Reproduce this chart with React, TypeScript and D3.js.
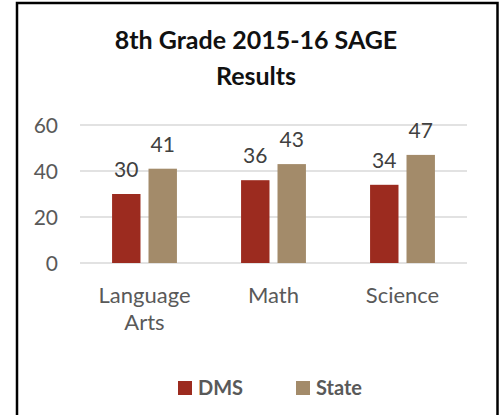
import * as d3 from 'd3';
import React from 'react';

const categories = ['Language Arts', 'Math', 'Science'];
const categoryLines = [['Language', 'Arts'], ['Math'], ['Science']];
const seriesNames = ['DMS', 'State'];
const dmsValues = [30, 36, 34];
const stateValues = [41, 43, 47];
const yTicks = [0, 20, 40, 60];

const colors = ['#9C2B1F', '#A38B6A'];
const font = 'Lato, "Open Sans", sans-serif';

const App = () => {
  const width = 502;
  const height = 415;

  const x = d3.scaleBand().domain(categories).range([80, 467]);
  const xInner = d3.scaleBand()
    .domain(seriesNames)
    .range([0, x.bandwidth()])
    .paddingInner(0.22)
    .paddingOuter(0.88);
  const y = d3.scaleLinear().domain([0, 60]).range([263, 125]);

  const series = [dmsValues, stateValues];

  return (
    <svg width={width} height={height} style={{ position: 'absolute', left: 0, top: 0 }} fontFamily={font}>
      <rect x={0} y={0} width={width} height={height} fill="#fff" />
      <rect x={17} y={3} width={480.5} height={500} fill="none" stroke="#000" strokeWidth={2.5} />

      <text x={256} y={49} textAnchor="middle" fontSize={25} fontWeight="bold" fill="#111">
        8th Grade 2015-16 SAGE
      </text>
      <text x={256} y={85} textAnchor="middle" fontSize={25} fontWeight="bold" fill="#111">
        Results
      </text>

      {/* gridlines + y labels */}
      {yTicks.map((t) => (
        <g key={t}>
          <line x1={80} x2={467} y1={y(t)} y2={y(t)} stroke="#D9D9D9" strokeWidth={1.5} />
          <text x={58} y={y(t)} dy="0.36em" textAnchor="end" fontSize={21} fill="#595959">
            {t}
          </text>
        </g>
      ))}

      {/* bars */}
      {series.map((vals, si) =>
        vals.map((v, ci) => {
          const bx = (x(categories[ci]) as number) + (xInner(seriesNames[si]) as number);
          return (
            <g key={`${si}-${ci}`}>
              <rect x={bx} y={y(v)} width={xInner.bandwidth()} height={y(0) - y(v)} fill={colors[si]} />
              <text x={bx + xInner.bandwidth() / 2} y={y(v) - 17} textAnchor="middle" fontSize={21} fill="#404040">
                {v}
              </text>
            </g>
          );
        })
      )}

      {/* category labels */}
      {categories.map((c, ci) => (
        <text key={c} x={(x(c) as number) + x.bandwidth() / 2} textAnchor="middle" fontSize={22} fill="#595959">
          {categoryLines[ci].map((line, li) => (
            <tspan key={line} x={(x(c) as number) + x.bandwidth() / 2} y={303 + li * 27}>
              {line}
            </tspan>
          ))}
        </text>
      ))}

      {/* legend */}
      {seriesNames.map((s, i) => {
        const lx = [178, 296][i];
        return (
          <g key={s}>
            <rect x={lx} y={381} width={14} height={14} fill={colors[i]} />
            <text x={lx + 20} y={395} fontSize={20} fontWeight="bold" fill="#595959">
              {s}
            </text>
          </g>
        );
      })}
    </svg>
  );
};

export default App;
